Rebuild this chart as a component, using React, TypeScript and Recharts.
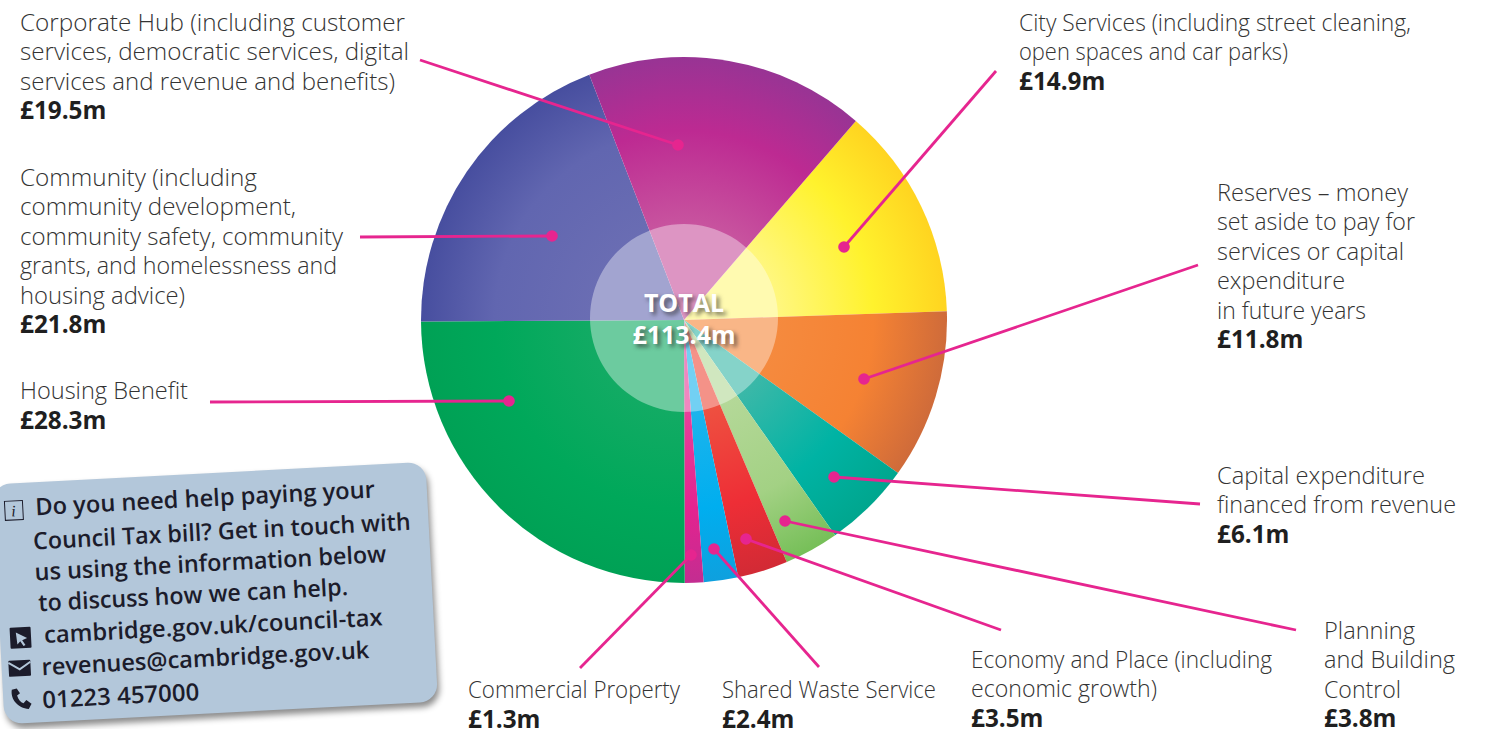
import { PieChart, Pie, Cell } from 'recharts';

const categories = [
  'City Services', 'Reserves', 'Capital expenditure', 'Planning and Building Control', 'Economy and Place',
  'Shared Waste Service', 'Commercial Property', 'Housing Benefit', 'Community', 'Corporate Hub',
];
const values = [14.9, 11.8, 6.1, 3.8, 3.5, 2.4, 1.3, 28.3, 21.8, 19.5];
const totalLabel = ['TOTAL', '£113.4m'];
const totalValue = [113.4];

// inner, middle, outer colours for each slice
const innerColors = ['#fff780', '#f58a3e', '#3bb8a8', '#b4d898', '#ee5040', '#1cb4ec', '#e6409a', '#12ab64', '#6a6db3', '#c8559f'];
const midColors = ['#fff22d', '#f58233', '#00b3a4', '#a3d184', '#ee2e36', '#00aeef', '#e4238f', '#00a85a', '#6166b0', '#bd2a92'];
const outerColors = ['#ffd420', '#cf6b3a', '#00a68e', '#76bf58', '#d22a35', '#0ea0de', '#c32d91', '#00a155', '#474e9f', '#983494'];

// widths are the measured line lengths, the source font is narrower than anything installed
const labels = [
  { x: 20, y: 31, lines: ['Corporate Hub (including customer', 'services, democratic services, digital', 'services and revenue and benefits)'], widths: [385, 389, 375], value: '£19.5m' },
  { x: 20, y: 186, lines: ['Community (including', 'community development,', 'community safety, community', 'grants, and homelessness and', 'housing advice)'], widths: [237, 276, 323, 317, 165], value: '£21.8m' },
  { x: 20, y: 399, lines: ['Housing Benefit'], widths: [168], value: '£28.3m' },
  { x: 1019, y: 31, lines: ['City Services (including street cleaning,', 'open spaces and car parks)'], widths: [392, 269], value: '£14.9m' },
  { x: 1217, y: 201, lines: ['Reserves – money', 'set aside to pay for', 'services or capital', 'expenditure', 'in future years'], widths: [191, 198, 187, 128, 149], value: '£11.8m' },
  { x: 1217, y: 484, lines: ['Capital expenditure', 'financed from revenue'], widths: [208, 239], value: '£6.1m' },
  { x: 1324, y: 639, lines: ['Planning', 'and Building', 'Control'], widths: [91, 131, 77], value: '£3.8m' },
  { x: 971, y: 668, lines: ['Economy and Place (including', 'economic growth)'], widths: [301, 186], value: '£3.5m' },
  { x: 722, y: 698, lines: ['Shared Waste Service'], widths: [214], value: '£2.4m' },
  { x: 468, y: 698, lines: ['Commercial Property'], widths: [212], value: '£1.3m' },
];

// leader lines: label end -> dot on the slice
const leaders = [
  [420, 60, 678, 145],
  [360, 237, 552, 236],
  [210, 402, 509, 401],
  [996, 71, 844, 247],
  [1198, 265, 864, 379],
  [1200, 504, 834, 477],
  [1296, 630, 785, 521],
  [1001, 630, 746, 539],
  [819, 667, 714, 549],
  [580, 668, 691, 555],
];

const calloutLines = [
  { text: 'Do you need help paying your', left: 42, top: 9, width: 340 },
  { text: 'Council Tax bill? Get in touch with', left: 38, top: 43, width: 378 },
  { text: 'us using the information below', left: 38, top: 74, width: 352 },
  { text: 'to discuss how we can help.', left: 40, top: 105, width: 310 },
  { text: 'cambridge.gov.uk/council-tax', left: 44, top: 137, width: 339 },
  { text: 'revenues@cambridge.gov.uk', left: 40, top: 169, width: 328 },
  { text: '01223 457000', left: 39, top: 202, width: 157 },
];

const pieData = categories.map((name, i) => ({ name, value: values[i] }));
const totalData = totalValue.map((value) => ({ name: 'Total', value }));

const CX = 684;
const CY = 320;
const FONT = '"Open Sans", sans-serif';

function Callout() {
  return (
    <div
      style={{
        position: 'absolute', left: -2, top: 473, width: 434, height: 240, background: '#b3c7da', borderRadius: 18,
        transform: 'rotate(-3deg)', boxShadow: '2px 5px 6px rgba(0,0,0,0.45)',
      }}
    >
      <svg width={434} height={240} style={{ position: 'absolute', left: 0, top: 0 }}>
        {calloutLines.map((l) => (
          <text
            key={l.text}
            x={l.left}
            y={l.top + 24}
            fontFamily={FONT}
            fontWeight={600}
            fontSize={23.6}
            fill="#1c1c2b"
            textLength={l.width}
            lengthAdjust="spacingAndGlyphs"
          >
            {l.text}
          </text>
        ))}
        <rect x={11.5} y={17.5} width={18} height={19} fill="none" stroke="#1c1c2b" strokeWidth={1} />
        <text x={20} y={33} fontSize={16} fontStyle="italic" fontFamily="Liberation Serif" textAnchor="middle" fill="#1c1c2b">i</text>
        <rect x={10} y={144} width={21} height={21} rx={1} fill="#1c1c2b" />
        <path d="M16 149 L27 155 L22 157 L25 162 L23 163 L20 158 L17 161 Z" fill="#b3c7da" />
        <rect x={7} y={177} width={22} height={16} rx={1} fill="#1c1c2b" />
        <path d="M7 179 L18 186 L29 179" fill="none" stroke="#b3c7da" strokeWidth={2} />
        <path d="M9 206 C7 215 14 225 25 226 L28 221 L23 217 L20 220 C17 219 15 216 14 212 L17 210 L14 205 Z" fill="#1c1c2b" />
      </svg>
    </div>
  );
}

export default function App() {
  return (
    <div style={{ position: 'absolute', left: 0, top: 0, width: 1491, height: 729, overflow: 'hidden', background: '#fff' }}>
      <PieChart width={1491} height={729} margin={{ top: 0, right: 0, bottom: 0, left: 0 }} style={{ position: 'absolute', left: 0, top: 0 }}>
        <defs>
          {categories.map((name, i) => (
            <radialGradient key={name} id={`slice-${i}`} gradientUnits="userSpaceOnUse" cx={CX} cy={CY} r={263}>
              <stop offset="0.35" stopColor={innerColors[i]} />
              <stop offset="0.72" stopColor={midColors[i]} />
              <stop offset="1" stopColor={outerColors[i]} />
            </radialGradient>
          ))}
        </defs>
        <Pie
          data={pieData}
          dataKey="value"
          cx={CX}
          cy={CY}
          outerRadius={263}
          startAngle={49.2}
          endAngle={-310.8}
          stroke="none"
          isAnimationActive={false}
          labelLine={false}
        >
          {pieData.map((d, i) => (
            <Cell key={d.name} fill={`url(#slice-${i})`} />
          ))}
        </Pie>
        <Pie
          data={totalData}
          dataKey="value"
          cx={CX}
          cy={CY - 2}
          outerRadius={94}
          fill="#ffffff"
          fillOpacity={0.38}
          stroke="none"
          isAnimationActive={false}
          labelLine={false}
        />
      </PieChart>

      <svg width={1491} height={729} style={{ position: 'absolute', left: 0, top: 0 }}>
        {leaders.map(([x1, y1, x2, y2]) => (
          <g key={`${x1}-${y1}`}>
            <line x1={x1} y1={y1} x2={x2} y2={y2} stroke="#e6258f" strokeWidth={2.8} />
            <circle cx={x2} cy={y2} r={5.8} fill="#e6258f" />
          </g>
        ))}
        {labels.map((l) => (
          <g key={l.value} fontFamily={FONT}>
            {l.lines.map((t, i) => (
              <text
                key={t}
                x={l.x}
                y={l.y + i * 29.4}
                fontSize={23}
                fontWeight={300}
                fill="#333"
                textLength={l.widths[i]}
                lengthAdjust="spacingAndGlyphs"
              >
                {t}
              </text>
            ))}
            <text x={l.x} y={l.y + 1 + l.lines.length * 29.1} fontSize={24.3} fontWeight={700} fill="#1f1f1f">
              {l.value}
            </text>
          </g>
        ))}
      </svg>

      {totalLabel.map((t, i) => (
        <div
          key={t}
          style={{
            position: 'absolute', left: CX - 100, width: 200, top: 286 + i * 32, textAlign: 'center', fontFamily: FONT,
            fontSize: 25, fontWeight: 700, lineHeight: '32px', color: '#fff', textShadow: '3px 3px 4px rgba(40,40,40,0.65)',
          }}
        >
          {t}
        </div>
      ))}

      <Callout />
    </div>
  );
}
